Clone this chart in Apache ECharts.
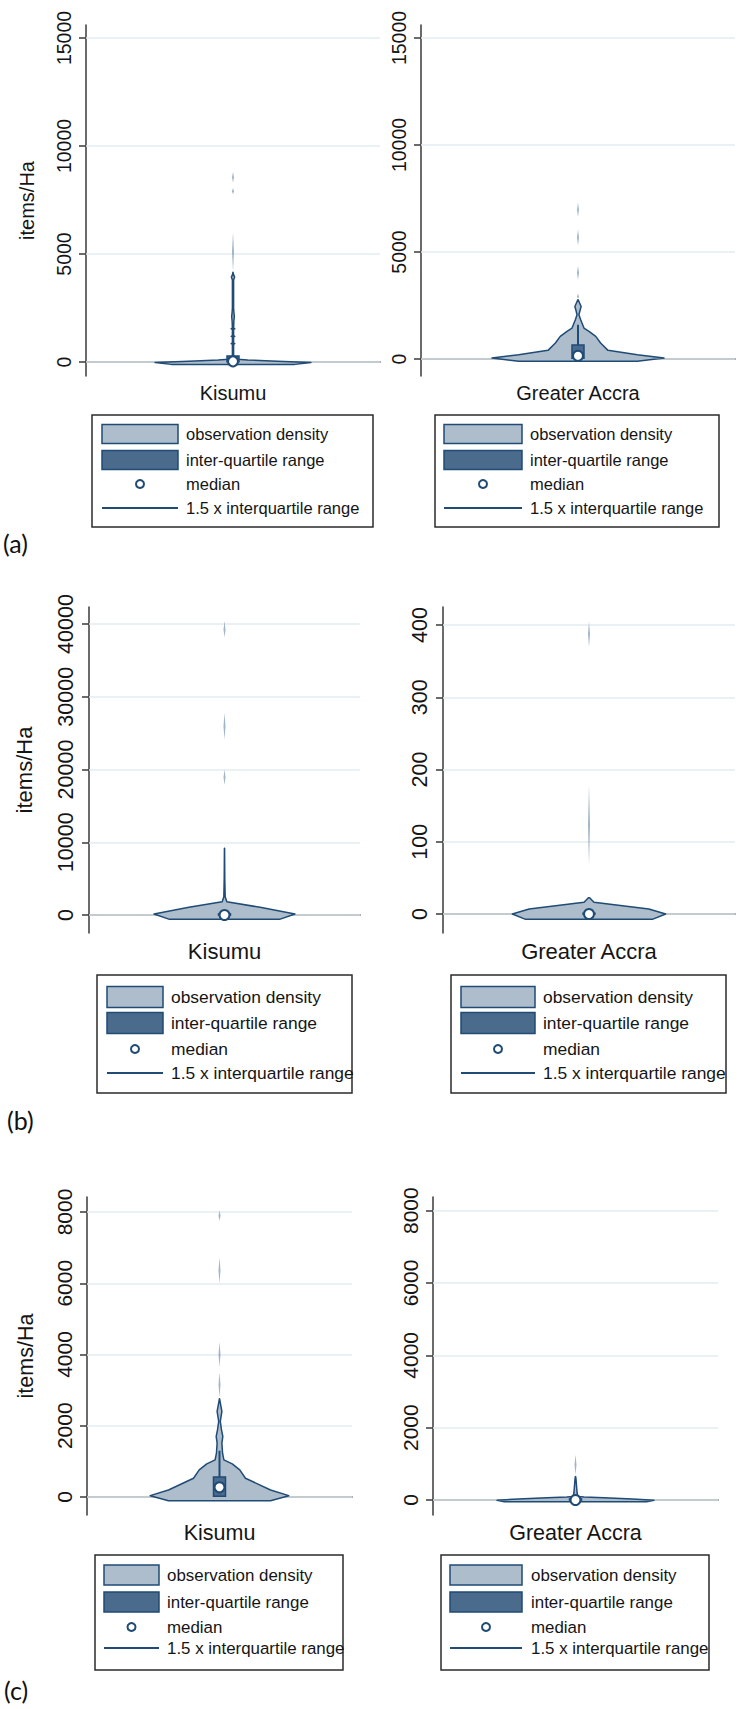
<!DOCTYPE html>
<html><head><meta charset="utf-8">
<script src="https://cdn.jsdelivr.net/npm/echarts@6/dist/echarts.min.js"></script>
<style>html,body{margin:0;padding:0;background:#fff}#c{width:739px;height:1709px}</style>
</head><body><div id="c"></div>
<script>
// ---------------- DATA ----------------
const categories = ['Kisumu', 'Greater Accra'];
const panelTags = ['(a)', '(b)', '(c)'];
const legendLabels = ['observation density', 'inter-quartile range', 'median', '1.5 x interquartile range'];
const yAxisName = 'items/Ha';

const ticksA = [0, 5000, 10000, 15000];
const ticksBKisumu = [0, 10000, 20000, 30000, 40000];
const ticksBAccra = [0, 100, 200, 300, 400];
const ticksC = [0, 2000, 4000, 6000, 8000];

// violin outlines: value levels (items/Ha) and density half-widths (share of half the category band)
const aKisumuLevels = [-110, -20, 40, 90, 130, 200, 820, 850, 880, 1160, 1190, 1220, 1510, 1540, 1570, 1900, 2100, 2300, 2500, 3800, 3930, 4060, 4150];
const aKisumuWidths = [0.42, 0.53, 0.30, 0.10, 0.03, 0.004, 0.004, 0.012, 0.004, 0.004, 0.012, 0.004, 0.004, 0.012, 0.004, 0.006, 0.009, 0.006, 0.004, 0.004, 0.011, 0.003, 0.0005];
const aKisumuOutliers = [[4200, 6000], [7750, 8050], [8300, 8800]];
const aKisumuBox = [10, 30, 280, 450]; // q1, median, q3, upper adjacent

const aAccraLevels = [-109, 47, 202, 404, 746, 1057, 1290, 1446, 1834, 2067, 2300, 2456, 2620, 2767];
const aAccraWidths = [0.378, 0.548, 0.378, 0.191, 0.144, 0.113, 0.07, 0.038, 0.017, 0.006, 0.014, 0.02, 0.01, 0.001];
const aAccraOutliers = [[2800, 3050], [3700, 4350], [5300, 6050], [6650, 7300]];
const aAccraBox = [30, 155, 650, 1600];

const bKisumuLevels = [-596, 138, 1055, 1835, 2523, 5000, 9174];
const bKisumuWidths = [0.406, 0.52, 0.263, 0.017, 0.005, 0.002, 0.0005];
const bKisumuOutliers = [[17900, 20000], [24100, 27800], [38100, 40400]];
const bKisumuBox = [0, 0, 150, 300];

const bAccraLevels = [-7.4, 0, 6.9, 16.2, 22.6];
const bAccraWidths = [0.434, 0.525, 0.41, 0.034, 0.004];
const bAccraOutliers = [[68, 178], [370, 405]];
const bAccraBox = [0, 0, 1, 3];

const cKisumuLevels = [-103, 38, 197, 526, 761, 930, 1042, 1230, 1512, 1700, 1887, 2122, 2404, 2685, 2760];
const cKisumuWidths = [0.385, 0.523, 0.385, 0.196, 0.153, 0.096, 0.033, 0.023, 0.018, 0.025, 0.015, 0.006, 0.018, 0.004, 0.0005];
const cKisumuOutliers = [[2800, 3500], [3650, 4350], [6000, 6720], [7750, 8050]];
const cKisumuBox = [20, 272, 560, 1300];

const cAccraLevels = [-50, -10, 30, 60, 80, 100, 200, 400, 600, 650];
const cAccraWidths = [0.50, 0.55, 0.40, 0.20, 0.06, 0.016, 0.011, 0.007, 0.003, 0.0005];
const cAccraOutliers = [[700, 1250]];
const cAccraBox = [0, 0, 30, 80];

// ---------------- STYLE / LAYOUT ----------------
const COL = {fill: '#aebdcc', box: '#4a6b8c', edge: '#1f4b75', grid: '#e3edf2', axis: '#3a3a3a', text: '#151515', dash: '#6f8daa'};
const FONT = 'Liberation Sans, Arial, sans-serif';

const panels = [
  {cat: 0, grid: {left: 86, top: 25, width: 294, height: 351}, yMin: -648, yMax: 15602, ticks: ticksA, name: true, fs: 20, nameGap: 49,
   levels: aKisumuLevels, widths: aKisumuWidths, outliers: aKisumuOutliers, box: aKisumuBox},
  {cat: 1, grid: {left: 421, top: 25, width: 314, height: 351}, yMin: -794, yMax: 15607, ticks: ticksA, name: false, fs: 20,
   levels: aAccraLevels, widths: aAccraWidths, outliers: aAccraOutliers, box: aAccraBox},
  {cat: 0, grid: {left: 89, top: 607, width: 271, height: 326}, yMin: -2474, yMax: 42337, ticks: ticksBKisumu, name: true, fs: 22, nameGap: 54,
   levels: bKisumuLevels, widths: bKisumuWidths, outliers: bKisumuOutliers, box: bKisumuBox},
  {cat: 1, grid: {left: 443, top: 607, width: 292, height: 326}, yMin: -26.3, yMax: 425, ticks: ticksBAccra, name: false, fs: 22,
   levels: bAccraLevels, widths: bAccraWidths, outliers: bAccraOutliers, box: bAccraBox},
  {cat: 0, grid: {left: 87, top: 1197, width: 265, height: 318}, yMin: -505, yMax: 8421, ticks: ticksC, name: true, fs: 21.5, nameGap: 50,
   levels: cKisumuLevels, widths: cKisumuWidths, outliers: cKisumuOutliers, box: cKisumuBox},
  {cat: 1, grid: {left: 433, top: 1197, width: 285, height: 318}, yMin: -415, yMax: 8377, ticks: ticksC, name: false, fs: 21.5,
   levels: cAccraLevels, widths: cAccraWidths, outliers: cAccraOutliers, box: cAccraBox}
];

const legends = [
  {x: 92, y: 415, w: 281, h: 112, sx: 10, sw: 76, sh: 19, tx: 94, fs: 16.5, rows: [19, 45, 69, 93]},
  {x: 435, y: 415, w: 284, h: 112, sx: 9, sw: 78, sh: 19, tx: 95, fs: 16.5, rows: [19, 45, 69, 93]},
  {x: 97, y: 975, w: 255, h: 118, sx: 10, sw: 56, sh: 21, tx: 74, fs: 17.4, rows: [22, 48, 74, 98]},
  {x: 451, y: 975, w: 275, h: 118, sx: 10, sw: 74, sh: 21, tx: 92, fs: 17.4, rows: [22, 48, 74, 98]},
  {x: 95, y: 1555, w: 248, h: 115, sx: 9, sw: 55, sh: 20, tx: 72, fs: 16.9, rows: [20, 47, 72, 93]},
  {x: 441, y: 1555, w: 268, h: 115, sx: 9, sw: 72, sh: 20, tx: 90, fs: 16.9, rows: [20, 47, 72, 93]}
];
const tagPos = [[3, 543], [7, 1120], [4, 1690]];

// ---------------- BUILD ----------------
function violinSeries(p, i) {
  return {
    type: 'custom', xAxisIndex: i, yAxisIndex: i, z: 10, silent: true, animation: false, clip: false,
    data: [[0, p.box[1]]],
    renderItem: function (params, api) {
      const half = api.size([1, 0])[0] / 2;
      const right = [], left = [];
      for (let k = 0; k < p.levels.length; k++) {
        const c = api.coord([0, p.levels[k]]);
        right.push([c[0] + p.widths[k] * half, c[1]]);
        left.unshift([c[0] - p.widths[k] * half, c[1]]);
      }
      const children = [];
      p.outliers.forEach(function (o) {
        const a = api.coord([0, o[0]]), b = api.coord([0, o[1]]);
        const mid = (a[1] + b[1]) / 2, w = 1.0;
        children.push({type: 'polygon', shape: {points: [[a[0], a[1]], [a[0] + w, mid], [b[0], b[1]], [a[0] - w, mid]]},
          style: {fill: COL.dash, opacity: 0.65}});
      });
      children.push({type: 'polygon', shape: {points: right.concat(left)},
        style: {fill: COL.fill, stroke: COL.edge, lineWidth: 1.5, lineJoin: 'round'}});
      const q1 = api.coord([0, p.box[0]]), q3 = api.coord([0, p.box[2]]), ua = api.coord([0, p.box[3]]);
      children.push({type: 'line', shape: {x1: q3[0], y1: q3[1], x2: ua[0], y2: ua[1]}, style: {stroke: COL.edge, lineWidth: 2}});
      const bw = 6;
      children.push({type: 'rect', shape: {x: q1[0] - bw, y: q3[1], width: 2 * bw, height: Math.max(q1[1] - q3[1], 0.5)},
        style: {fill: COL.box, stroke: COL.edge, lineWidth: 1.5}});
      return {type: 'group', children: children};
    }
  };
}

const option = {
  backgroundColor: '#fff',
  animation: false,
  grid: panels.map(p => Object.assign({containLabel: false, outerBoundsMode: 'none', show: false}, p.grid)),
  xAxis: panels.map((p, i) => ({
    type: 'category', gridIndex: i, data: [categories[p.cat]], boundaryGap: true,
    axisTick: {show: false},
    axisLine: {show: true, lineStyle: {color: COL.axis, width: 1.5}},
    axisLabel: {fontSize: p.fs, color: COL.text, fontFamily: FONT, margin: 7},
    splitLine: {show: false}
  })),
  yAxis: panels.map((p, i) => ({
    type: 'value', gridIndex: i, min: p.yMin, max: p.yMax,
    name: p.name ? yAxisName : '', nameLocation: 'middle', nameRotate: 90, nameGap: p.nameGap || 50,
    nameTextStyle: {fontSize: p.fs, color: COL.text, fontFamily: FONT},
    axisLine: {show: true, lineStyle: {color: COL.axis, width: 1.5}},
    axisTick: {show: true, length: 7, customValues: p.ticks, lineStyle: {color: COL.axis, width: 1.5}},
    axisLabel: {rotate: 90, fontSize: p.fs - 0.5, color: COL.text, fontFamily: FONT, margin: 12,
      customValues: p.ticks, formatter: v => String(v)},
    splitLine: {show: false}
  })),
  series: [],
  graphic: []
};

panels.forEach((p, i) => {
  option.series.push({
    type: 'line', xAxisIndex: i, yAxisIndex: i, data: [], z: 1, silent: true,
    markLine: {silent: true, symbol: 'none', z: 1, animation: false, label: {show: false},
      lineStyle: {color: COL.grid, width: 1.5, type: 'solid'},
      emphasis: {disabled: true},
      data: p.ticks.map(v => ({yAxis: v}))}
  });
  option.series.push(violinSeries(p, i));
  option.series.push({
    type: 'scatter', xAxisIndex: i, yAxisIndex: i, z: 12, silent: true,
    data: [[0, p.box[1]]], symbol: 'circle', symbolSize: 10,
    itemStyle: {color: '#fff', borderColor: COL.edge, borderWidth: 2, opacity: 1}
  });
});

legends.forEach(L => {
  const els = [
    {type: 'rect', shape: {x: 0, y: 0, width: L.w, height: L.h}, style: {fill: '#fff', stroke: '#2b2b2b', lineWidth: 1.5}},
    {type: 'rect', shape: {x: L.sx, y: L.rows[0] - L.sh / 2, width: L.sw, height: L.sh}, style: {fill: COL.fill, stroke: COL.edge, lineWidth: 1.5}},
    {type: 'rect', shape: {x: L.sx, y: L.rows[1] - L.sh / 2, width: L.sw, height: L.sh}, style: {fill: COL.box, stroke: COL.edge, lineWidth: 1.5}},
    {type: 'circle', shape: {cx: L.sx + L.sw / 2, cy: L.rows[2], r: 4}, style: {fill: '#fff', stroke: COL.edge, lineWidth: 2}},
    {type: 'line', shape: {x1: L.sx, y1: L.rows[3], x2: L.sx + L.sw, y2: L.rows[3]}, style: {stroke: COL.edge, lineWidth: 2}}
  ];
  legendLabels.forEach((t, k) => els.push({type: 'text', x: L.tx, y: L.rows[k],
    style: {text: t, fontSize: L.fs, fontFamily: FONT, fill: COL.text, align: 'left', verticalAlign: 'middle'}}));
  option.graphic.push({type: 'group', x: L.x, y: L.y, children: els});
});
panelTags.forEach((t, k) => option.graphic.push({type: 'text', x: tagPos[k][0], y: tagPos[k][1],
  style: {text: t, fontSize: 25, fontFamily: 'Lato, Open Sans, sans-serif', fill: '#111', align: 'left', verticalAlign: 'middle'}}));

const chart = echarts.init(document.getElementById('c'), null, {renderer: 'svg', width: 739, height: 1709});
chart.setOption(option);
</script>
</body></html>
